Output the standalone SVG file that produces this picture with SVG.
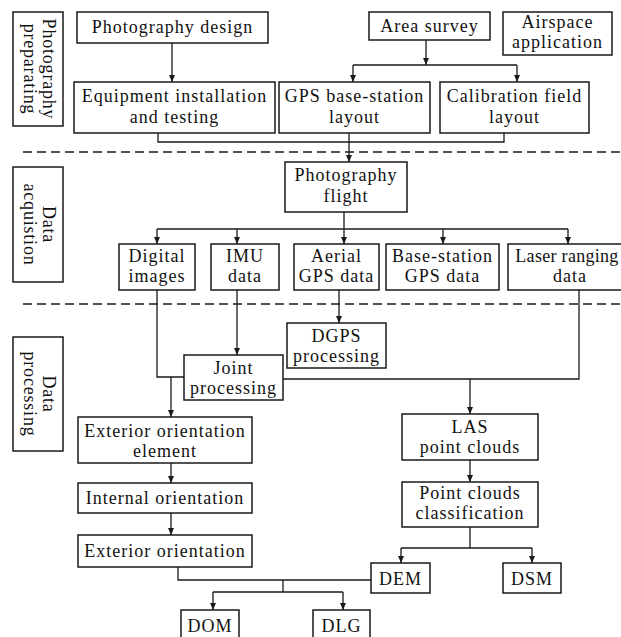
<svg xmlns="http://www.w3.org/2000/svg" width="621" height="637" viewBox="0 0 621 637">
<defs>
<marker id="ah" markerUnits="userSpaceOnUse" markerWidth="8" markerHeight="8" refX="7" refY="3" orient="auto">
<path d="M0,0 L7,3 L0,6 Z" fill="#1a1a1a"/>
</marker>
<style>
rect{fill:#fff;stroke:#1a1a1a;stroke-width:1.5}
text{font-family:"Liberation Serif","Times New Roman",serif;font-size:18px;fill:#111;text-anchor:middle;letter-spacing:1px}
.c path{fill:none;stroke:#1a1a1a;stroke-width:1.3}
.c .a{marker-end:url(#ah)}
.d{fill:none;stroke:#1a1a1a;stroke-width:1.3;stroke-dasharray:9 5}
</style>
</defs>
<rect width="621" height="637" style="fill:#fff;stroke:none"/>
<path class="d" d="M23,152 H621 M23,304 H621"/>
<g class="c">
<path class="a" d="M172,43 V82"/>
<path class="a" d="M426,40 V65"/>
<path d="M353,65 H517"/>
<path class="a" d="M353,65 V82"/>
<path class="a" d="M517,65 V82"/>
<path d="M158,133 V142 H504 V133"/>
<path class="a" d="M349,133 V162"/>
<path class="a" d="M344,212 V244"/>
<path d="M157,229 H568"/>
<path class="a" d="M157,229 V244"/>
<path class="a" d="M237,229 V244"/>
<path class="a" d="M443,229 V244"/>
<path class="a" d="M568,229 V244"/>
<path d="M157,290 V377 H184"/>
<path class="a" d="M171,377 V417"/>
<path class="a" d="M237,290 V355"/>
<path class="a" d="M339,290 V323"/>
<path d="M579,290 V379 H283"/>
<path class="a" d="M470,379 V414"/>
<path class="a" d="M470,460 V482"/>
<path d="M470,527 V548 M401,548 H532"/>
<path class="a" d="M401,548 V563"/>
<path class="a" d="M532,548 V563"/>
<path class="a" d="M171,463 V483"/>
<path class="a" d="M171,513 V535"/>
<path d="M178,567 V580 H371 M283,580 V592 M213,592 H343"/>
<path class="a" d="M213,592 V610"/>
<path class="a" d="M343,592 V610"/>
</g>
<g id="lbl1"><rect x="13" y="12" width="50" height="114"/><text transform="translate(38,69) rotate(90)" style="letter-spacing:0.8px"><tspan x="0" y="-5">Photography</tspan><tspan x="0" y="14">preparating</tspan></text></g>
<g id="lbl2"><rect x="13" y="167" width="50" height="115"/><text transform="translate(38,224.5) rotate(90)" style="letter-spacing:0.8px"><tspan x="0" y="-5">Data</tspan><tspan x="0" y="14">acquistion</tspan></text></g>
<g id="lbl3"><rect x="13" y="337" width="50" height="114"/><text transform="translate(38,394) rotate(90)" style="letter-spacing:0.8px"><tspan x="0" y="-5">Data</tspan><tspan x="0" y="14">processing</tspan></text></g>
<g id="n1"><rect x="77" y="12" width="191" height="31"/><text x="172.5" y="33">Photography design</text></g>
<g id="n2"><rect x="369" y="12" width="121" height="28"/><text x="429.5" y="32">Area survey</text></g>
<g id="n3"><rect x="503" y="12" width="109" height="43"/><text x="557.5" y="28">Airspace</text><text x="557.5" y="48">application</text></g>
<g id="n4"><rect x="74" y="82" width="201" height="51"/><text x="174.5" y="102">Equipment installation</text><text x="174.5" y="123">and testing</text></g>
<g id="n5"><rect x="279" y="82" width="151" height="51"/><text x="354.5" y="102">GPS base-station</text><text x="354.5" y="123">layout</text></g>
<g id="n6"><rect x="440" y="82" width="149" height="51"/><text x="514.5" y="102">Calibration field</text><text x="514.5" y="123">layout</text></g>
<g id="n7"><rect x="285" y="162" width="122" height="50"/><text x="346" y="181">Photography</text><text x="346" y="202">flight</text></g>
<g id="n8"><rect x="119" y="244" width="76" height="46"/><text x="157" y="262">Digital</text><text x="157" y="282">images</text></g>
<g id="n9"><rect x="211" y="244" width="68" height="46"/><text x="245" y="262">IMU</text><text x="245" y="282">data</text></g>
<g id="n10"><rect x="294" y="244" width="85" height="46"/><text x="336.5" y="262">Aerial</text><text x="336.5" y="282">GPS data</text></g>
<g id="n11"><rect x="386" y="244" width="113" height="46"/><text x="442.5" y="262">Base-station</text><text x="442.5" y="282">GPS data</text></g>
<g id="n12"><rect x="508" y="244" width="124" height="46"/><text x="567" y="262" style="letter-spacing:0.3px">Laser ranging</text><text x="570" y="282">data</text></g>
<g id="n13"><rect x="287" y="323" width="99" height="45"/><text x="336.5" y="342">DGPS</text><text x="336.5" y="362">processing</text></g>
<g id="n14"><rect x="184" y="355" width="99" height="45"/><text x="233.5" y="374">Joint</text><text x="233.5" y="394">processing</text></g>
<g id="n15"><rect x="78" y="417" width="174" height="46"/><text x="165" y="437">Exterior orientation</text><text x="165" y="457">element</text></g>
<g id="n16"><rect x="402" y="414" width="136" height="46"/><text x="470" y="433">LAS</text><text x="470" y="453">point clouds</text></g>
<g id="n17"><rect x="78" y="483" width="174" height="30"/><text x="165" y="504">Internal orientation</text></g>
<g id="n18"><rect x="402" y="482" width="136" height="45"/><text x="470" y="499">Point clouds</text><text x="470" y="519">classification</text></g>
<g id="n19"><rect x="78" y="535" width="174" height="32"/><text x="165" y="557">Exterior orientation</text></g>
<g id="n20"><rect x="371" y="563" width="59" height="30"/><text x="400.5" y="585">DEM</text></g>
<g id="n21"><rect x="503" y="563" width="58" height="30"/><text x="532" y="585">DSM</text></g>
<g id="n22"><rect x="181" y="610" width="58" height="32"/><text x="210" y="632">DOM</text></g>
<g id="n23"><rect x="313" y="610" width="57" height="32"/><text x="341.5" y="632">DLG</text></g>
</svg>
